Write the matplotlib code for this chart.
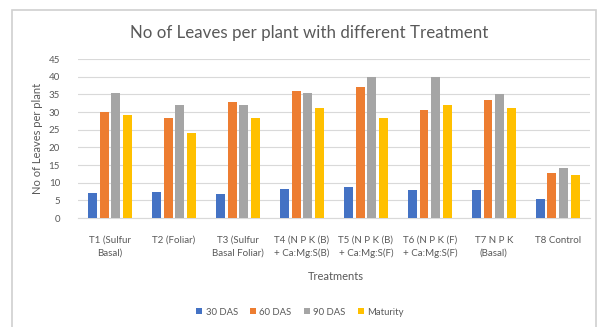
import matplotlib
matplotlib.use("Agg")
import matplotlib.pyplot as plt
import numpy as np
from matplotlib.patches import Rectangle

plt.rcParams['font.family'] = ['Lato', 'DejaVu Sans']

treatments = ["T1 (Sulfur\nBasal)", "T2 (Foliar)", "T3 (Sulfur\nBasal Foliar)",
              "T4 (N P K (B)\n+ Ca:Mg:S(B)", "T5 (N P K (B)\n+ Ca:Mg:S(F)",
              "T6 (N P K (F)\n+ Ca:Mg:S(F)", "T7 N P K\n(Basal)", "T8 Control"]
das30 = [7.2, 7.3, 6.9, 8.3, 8.8, 8.0, 7.8, 5.5]
das60 = [30.0, 28.4, 32.8, 36.0, 37.1, 30.5, 33.5, 12.6]
das90 = [35.3, 31.9, 31.9, 35.4, 39.9, 39.9, 35.1, 14.2]
maturity = [29.2, 24.0, 28.4, 31.1, 28.4, 31.9, 31.0, 12.3]
series_names = ["30 DAS", "60 DAS", "90 DAS", "Maturity"]
yticks = [0, 5, 10, 15, 20, 25, 30, 35, 40, 45]

colors = ["#4472C4", "#ED7D31", "#A5A5A5", "#FFC000"]
text_col = "#595959"

fig = plt.figure(figsize=(6.0, 3.27), dpi=100)
ax = fig.add_axes([0.13, 0.3333, 0.853, 0.4862])

# outer chart frame
fig.patches.append(Rectangle((0.02, -0.01), 0.973, 0.98, transform=fig.transFigure,
                             fill=False, edgecolor="#D0D0D0", linewidth=1.2))

x = np.arange(len(treatments))
width = 0.14
step = 0.183
for i, (vals, name) in enumerate(zip([das30, das60, das90, maturity], series_names)):
    ax.bar(x + (i - 1.5) * step, vals, width, color=colors[i], label=name, zorder=3)

ax.set_xlim(-0.5, len(treatments) - 0.5)
ax.set_ylim(0, 45)
ax.set_yticks(yticks)
ax.yaxis.grid(True, color="#D9D9D9", linewidth=0.8, zorder=0)
ax.tick_params(axis='both', length=0, colors=text_col, labelsize=7)
ax.tick_params(axis='y', pad=13)
ax.set_xticks(x)
ax.set_xticklabels(treatments, fontsize=7, color=text_col, linespacing=1.5)
ax.tick_params(axis='x', pad=13)
for s in ["top", "right", "left"]:
    ax.spines[s].set_visible(False)
ax.spines["bottom"].set_color("#D9D9D9")
ax.spines["bottom"].set_linewidth(0.8)

ax.set_ylabel("No of Leaves per plant", fontsize=8, color=text_col, labelpad=4)
fig.text(0.56, 0.155, "Treatments", ha="center", va="center", fontsize=8, color=text_col)
fig.text(0.515, 0.898, "No of Leaves per plant with different Treatment",
         ha="center", va="center", fontsize=12.2, color=text_col)

leg = fig.legend(loc="center", bbox_to_anchor=(0.5, 0.045), ncol=4, frameon=False,
                 fontsize=6.8, handlelength=0.6, handleheight=0.6, handletextpad=0.4,
                 columnspacing=1.3)
for t in leg.get_texts():
    t.set_color(text_col)

fig.savefig("out.png", dpi=100)
